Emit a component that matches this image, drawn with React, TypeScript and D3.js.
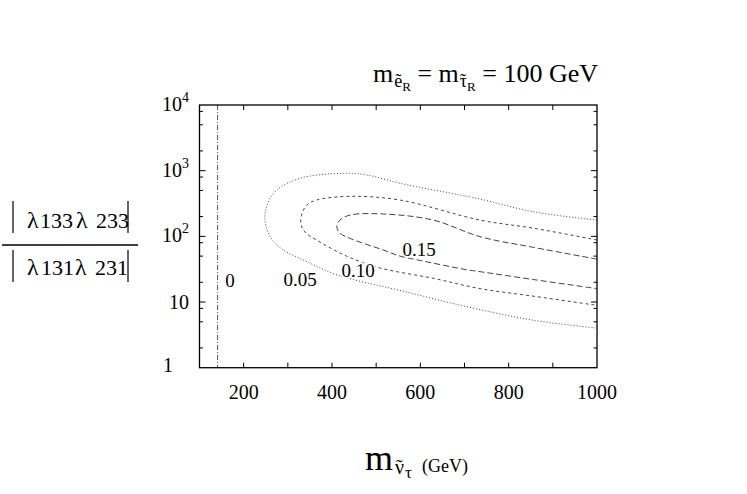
import * as d3 from "d3";

// x: sneutrino mass (GeV), y: |l133 l233| / |l131 l231| (log)
const xTicks = [100, 200, 300, 400, 500, 600, 700, 800, 900, 1000];
const xLabels = [200, 400, 600, 800, 1000];
const yDecades = [1, 10, 100, 1000, 10000];
const yMinor = [2, 5, 8];

const zeroLineX = 141;

// contour 0.05 (outer, dotted)
const contour05: [number, number][] = [
  [1000, 177], [855, 237], [735, 370], [554, 643], [479, 859], [426, 912],
  [328, 766], [275, 508], [255, 324], [248, 191], [260, 99], [290, 62],
  [328, 46], [365, 35], [403, 27], [448, 22], [554, 15], [705, 8.5],
  [855, 5.3], [1000, 4.0],
];

// contour 0.10 (short dashes)
const contour10: [number, number][] = [
  [1000, 88], [856, 133], [735, 177], [554, 357], [441, 407], [365, 357],
  [343, 300], [331, 211], [330, 149], [339, 116], [365, 88], [433, 50],
  [509, 33], [629, 23], [735, 16], [855, 12.3], [1000, 8.9],
];

// contour 0.15 (long dashes)
const contour15: [number, number][] = [
  [1000, 45], [856, 68], [735, 99], [629, 177], [516, 219], [441, 211],
  [418, 177], [411, 139], [418, 112], [441, 93], [516, 62], [554, 50],
  [592, 44], [705, 31], [735, 29], [856, 22], [1000, 16],
];

const contourLabels = [
  { text: "0", x: 169, y: 21.6 },
  { text: "0.05", x: 328, y: 22.4 },
  { text: "0.10", x: 459, y: 30.7 },
  { text: "0.15", x: 597, y: 64 },
];

const W = 747;
const H = 494;
const font = "'Liberation Serif', 'Times New Roman', serif";

export default function App() {
  const x = d3.scaleLinear().domain([100, 1000]).range([199.5, 597]);
  const y = d3.scaleLog().domain([1, 10000]).range([367.7, 105]);
  const [x0, x1] = x.range();
  const [y0, y1] = y.range();

  const line = d3
    .line<[number, number]>()
    .x((d) => x(d[0]))
    .y((d) => y(d[1]))
    .curve(d3.curveCatmullRom.alpha(0.5));

  const minorTicks = yDecades.slice(0, -1).flatMap((d) => yMinor.map((m) => d * m));
  const majorTicks = yDecades.slice(1, -1);

  const curves = [
    { data: contour05, dash: "1,2" },
    { data: contour10, dash: "3,3" },
    { data: contour15, dash: "6,3" },
  ];

  return (
    <svg
      width={W}
      height={H}
      style={{ position: "absolute", left: 0, top: 0, background: "#fff", fontFamily: font }}
    >
      <rect width={W} height={H} fill="#fff" />

      {/* contours */}
      <line
        x1={x(zeroLineX)}
        x2={x(zeroLineX)}
        y1={y1}
        y2={y0}
        stroke="#555"
        strokeWidth={1}
        strokeDasharray="5,2,1,2"
      />
      {curves.map((c, i) => (
        <path
          key={i}
          d={line(c.data) || ""}
          fill="none"
          stroke="#444"
          strokeWidth={1}
          strokeDasharray={c.dash}
        />
      ))}
      {contourLabels.map((l) => (
        <text
          key={l.text}
          x={x(l.x)}
          y={y(l.y)}
          dy="0.35em"
          textAnchor="middle"
          fontSize={19}
          fill="#000"
          stroke="#fff"
          strokeWidth={3}
          paintOrder="stroke"
        >
          {l.text}
        </text>
      ))}

      {/* frame */}
      <rect x={x0} y={y1} width={x1 - x0} height={y0 - y1} fill="none" stroke="#000" strokeWidth={1.3} />

      {/* x ticks */}
      {xTicks.slice(1, -1).map((t) => (
        <g key={t}>
          <line x1={x(t)} x2={x(t)} y1={y0} y2={y0 - 5} stroke="#000" />
          <line x1={x(t)} x2={x(t)} y1={y1} y2={y1 + 5} stroke="#000" />
        </g>
      ))}
      {xLabels.map((t) => (
        <text key={t} x={x(t)} y={399} textAnchor="middle" fontSize={20}>
          {t}
        </text>
      ))}

      {/* y ticks */}
      {majorTicks.map((t) => (
        <g key={t}>
          <line x1={x0} x2={x0 + 6} y1={y(t)} y2={y(t)} stroke="#000" />
          <line x1={x1} x2={x1 - 6} y1={y(t)} y2={y(t)} stroke="#000" />
        </g>
      ))}
      {minorTicks.map((t) => (
        <g key={t}>
          <line x1={x0} x2={x0 + 3.5} y1={y(t)} y2={y(t)} stroke="#000" />
          <line x1={x1} x2={x1 - 3.5} y1={y(t)} y2={y(t)} stroke="#000" />
        </g>
      ))}
      {yDecades.map((t) => {
        const e = Math.round(Math.log10(t));
        if (e === 0)
          return (
            <text key={t} x={173} y={y(t) + 4} textAnchor="end" fontSize={20}>
              1
            </text>
          );
        if (e === 1)
          return (
            <text key={t} x={189} y={y(t) + 7} textAnchor="end" fontSize={20}>
              10
            </text>
          );
        return (
          <text key={t} x={189} y={y(t) + 6} textAnchor="end" fontSize={20}>
            10
            <tspan fontSize={14} dy={-9}>
              {e}
            </tspan>
          </text>
        );
      })}

      {/* title */}
      <text x={598} y={82} textAnchor="end" fontSize={26}>
        m
        <tspan fontSize={18} dy={5} dx={1}>ẽ</tspan>
        <tspan fontSize={13} dy={4}>R</tspan>
        <tspan dy={-9}>{" = m"}</tspan>
        <tspan fontSize={18} dy={5} dx={1}>τ</tspan>
        <tspan fontSize={18} dx={-7}>˜</tspan>
        <tspan fontSize={13} dy={4} dx={1}>R</tspan>
        <tspan dy={-9}>{" = 100 GeV"}</tspan>
      </text>

      {/* x axis title */}
      <text x={365} y={470} fontSize={36}>m</text>
      <text x={395} y={474} fontSize={20}>ν</text>
      <text x={396} y={474} fontSize={20}>˜</text>
      <text x={405} y={478} fontSize={17}>τ</text>
      <text x={422} y={472} fontSize={18}>(GeV)</text>

      {/* y axis title */}
      <g fontSize={24}>
        <line x1={13} x2={13} y1={201} y2={233} stroke="#000" strokeWidth={1.2} />
        <text x={27} y={228}>λ</text>
        <text x={40} y={228} fontSize={22}>133</text>
        <text x={76} y={228}>λ</text>
        <text x={96} y={228} fontSize={22}>233</text>
        <line x1={128} x2={128} y1={201} y2={233} stroke="#000" strokeWidth={1.2} />

        <line x1={2} x2={138} y1={245} y2={245} stroke="#000" strokeWidth={1.3} />

        <line x1={13} x2={13} y1={250} y2={282} stroke="#000" strokeWidth={1.2} />
        <text x={27} y={275}>λ</text>
        <text x={41} y={275} fontSize={22}>131</text>
        <text x={75} y={275}>λ</text>
        <text x={95} y={275} fontSize={22}>231</text>
        <line x1={128} x2={128} y1={250} y2={282} stroke="#000" strokeWidth={1.2} />
      </g>
    </svg>
  );
}
